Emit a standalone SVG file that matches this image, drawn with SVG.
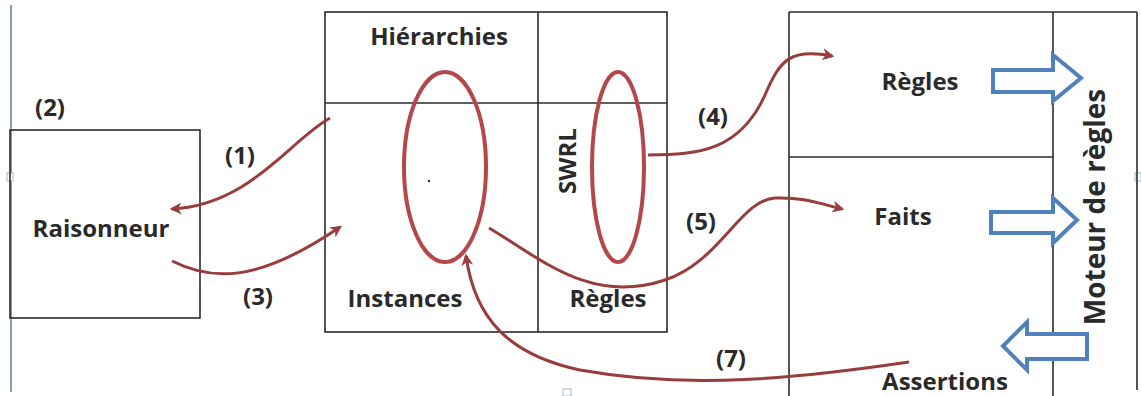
<svg xmlns="http://www.w3.org/2000/svg" width="1141" height="396" viewBox="0 0 1141 396">
<defs>
<style>
.box{fill:none;stroke:#2b2b2b;stroke-width:1.6}
.t{font-family:"Open Sans","Liberation Sans",sans-serif;font-weight:700;font-size:24px;fill:#2a2a2a}
.big{font-size:28px}
.ell{fill:none;stroke:#b3474a;stroke-width:4}
.con{fill:none;stroke:#993c3c;stroke-width:3}
.blk{fill:#fff;stroke:#4f81bd;stroke-width:4;stroke-linejoin:miter}
.frame{fill:none;stroke:#8aa0a0;stroke-width:2}
.hdl{fill:#fff;stroke:#a8b8c0;stroke-width:1}
</style>
<marker id="ah" viewBox="0 0 10 10" refX="8" refY="5" markerWidth="4" markerHeight="4" orient="auto" markerUnits="strokeWidth">
<path d="M0,0 L10,5 L0,10 L3,5 z" fill="#993c3c"/>
</marker>
</defs>
<rect width="1141" height="396" fill="#fff"/>
<g id="frame">
<line class="frame" x1="11" y1="5" x2="11" y2="392"/>
<rect class="hdl" x="7" y="173" width="6" height="8"/>
<rect class="hdl" x="1135" y="173" width="6" height="8"/>
<rect class="hdl" x="563" y="389" width="8" height="7"/>
</g>
<g id="raisonneur">
<rect class="box" x="10" y="130" width="190" height="188"/>
<text class="t" x="101" y="237" text-anchor="middle">Raisonneur</text>
</g>
<g id="label2"><text class="t" x="50" y="116" text-anchor="middle">(2)</text></g>
<g id="ontologie">
<rect class="box" x="325" y="12" width="342" height="320"/>
<line class="box" x1="538" y1="12" x2="538" y2="332"/>
<line class="box" x1="325" y1="103" x2="667" y2="103"/>
<text class="t" x="439" y="45" text-anchor="middle">Hiérarchies</text>
<text class="t" x="405" y="307" text-anchor="middle">Instances</text>
<text class="t" x="608" y="307" text-anchor="middle">Règles</text>
<text class="t" transform="translate(576,161) rotate(-90)" text-anchor="middle">SWRL</text>
<ellipse class="ell" cx="445" cy="167" rx="41" ry="95"/>
<ellipse class="ell" cx="618" cy="167" rx="26" ry="95"/>
<circle cx="429" cy="181" r="1.2" fill="#333"/>
</g>
<g id="moteur">
<line class="box" x1="789" y1="12" x2="1137" y2="12"/>
<line class="box" x1="789" y1="12" x2="789" y2="396"/>
<line class="box" x1="1053" y1="12" x2="1053" y2="396"/>
<line class="box" x1="1137" y1="12" x2="1137" y2="390"/>
<line class="box" x1="789" y1="157" x2="1053" y2="157"/>
<text class="t" x="920" y="90" text-anchor="middle">Règles</text>
<text class="t" x="903" y="225" text-anchor="middle">Faits</text>
<text class="t" x="945" y="390" text-anchor="middle">Assertions</text>
<text class="t big" transform="translate(1105,207) rotate(-90)" text-anchor="middle">Moteur de règles</text>
<path class="blk" d="M993,70 L1053,70 L1053,55 L1081,78 L1053,101 L1053,92 L993,92 Z"/>
<path class="blk" d="M991,212 L1053,212 L1053,198 L1077,220 L1053,243 L1053,233 L991,233 Z"/>
<path class="blk" d="M1087,334 L1027,334 L1027,322 L1003,346 L1027,370 L1027,359 L1087,359 Z"/>
</g>
<g id="connectors">
<path class="con" marker-end="url(#ah)" d="M330,118 C290,140 250,205 172,209"/>
<path class="con" marker-end="url(#ah)" d="M172,261 C210,280 255,285 340,227"/>
<path class="con" marker-end="url(#ah)" d="M648,155 C700,155 740,150 765,95 C780,60 790,48 832,56"/>
<path class="con" marker-end="url(#ah)" d="M489,228 C540,258 590,305 665,280 C720,262 740,200 775,198 C800,197 815,202 842,209"/>
<path class="con" marker-end="url(#ah)" d="M909,362 C800,378 690,390 580,370 C510,355 475,320 466,256"/>
<text class="t" x="240" y="164" text-anchor="middle">(1)</text>
<text class="t" x="258" y="305" text-anchor="middle">(3)</text>
<text class="t" x="713" y="125" text-anchor="middle">(4)</text>
<text class="t" x="701" y="230" text-anchor="middle">(5)</text>
<text class="t" x="731" y="367" text-anchor="middle">(7)</text>
</g>
</svg>
